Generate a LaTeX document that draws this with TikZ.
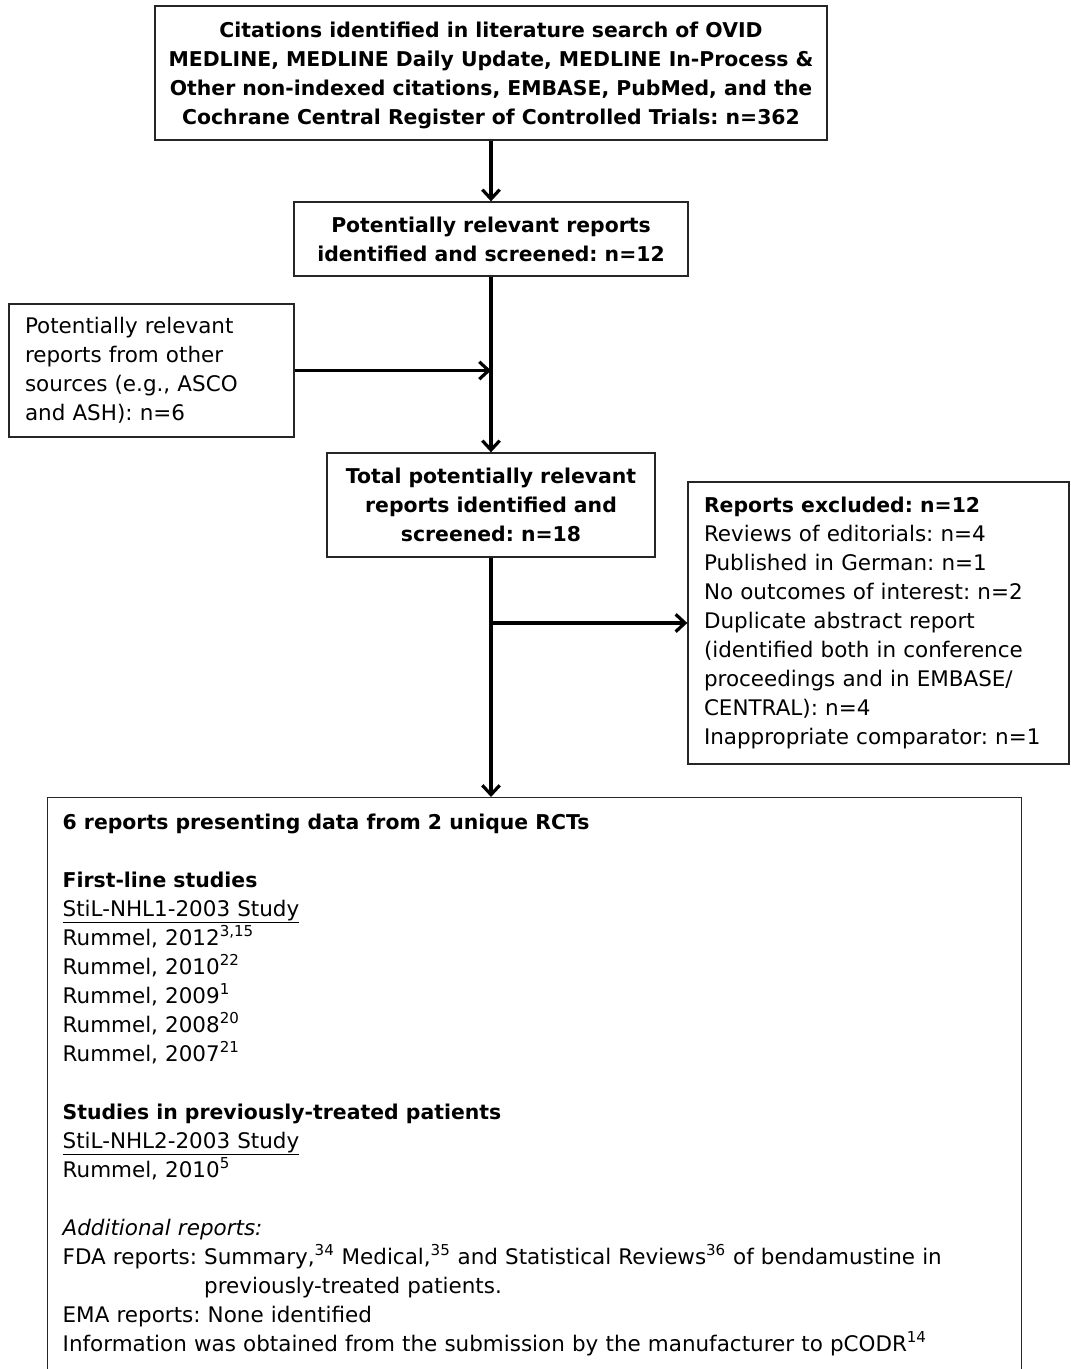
\documentclass[tikz,border=0pt]{standalone}
\usepackage{fontspec}
\setmainfont{DejaVu Sans}[BoldFeatures={Scale=0.95}]
\usepackage{tikz}
\usetikzlibrary{arrows.meta}
\frenchspacing

\begin{document}
\begin{tikzpicture}[x=0.75pt,y=0.75pt,yscale=-1,xscale=1,
	box/.style={draw=black!85,line width=1pt,inner sep=0pt,font=\fontsize{16.1pt}{21.75pt}\selectfont},
	boldbox/.style={box,align=center,font=\fontsize{16.1pt}{21.75pt}\selectfont\bfseries},
	listbox/.style={box,align=left,inner xsep=12pt},
	arr/.style={draw=black,line width=2.6pt,-{Straight Barb[length=7pt,width=13pt,line width=2.4pt]}}]
	\useasboundingbox (0,0) rectangle (1070,1369);
	
	%Shape: Rectangle [id:search]
	\node [boldbox,minimum width=504pt,minimum height=100.5pt,text depth=-2pt] (search) at (491,73)
		{Citations identified in literature search of OVID\\
		 MEDLINE, MEDLINE Daily Update, MEDLINE In-Process \&\\
		 Other non-indexed citations, EMBASE, PubMed, and the\\
		 Cochrane Central Register of Controlled Trials: n=362};
	%Shape: Rectangle [id:screened]
	\node [boldbox,minimum width=295.5pt,minimum height=55.5pt] (screened) at (491,239)
		{Potentially relevant reports\\ identified and screened: n=12};
	%Shape: Rectangle [id:other]
	\node [listbox,text width=189.75pt,minimum height=99.75pt] (other) at (151.5,370.5)
		{Potentially relevant\\ reports from other\\ sources (e.g., ASCO\\ and ASH): n=6};
	%Shape: Rectangle [id:total]
	\node [boldbox,minimum width=246pt,minimum height=78pt] (total) at (491,505)
		{Total potentially relevant\\ reports identified and\\ screened: n=18};
	%Shape: Rectangle [id:excluded]
	\node [listbox,text width=261.75pt,minimum height=211.5pt] (excluded) at (878.5,623)
		{\textbf{Reports excluded: n=12}\\
		 Reviews of editorials: n=4\\
		 Published in German: n=1\\
		 No outcomes of interest: n=2\\
		 Duplicate abstract report\\
		 (identified both in conference\\
		 proceedings and in EMBASE/\\
		 CENTRAL): n=4\\
		 Inappropriate comparator: n=1};
	%Shape: Rectangle [id:included]
	\node [listbox,anchor=north west,text width=708pt,inner xsep=11.25pt,inner ysep=12pt] (included) at (47,797)
		{\textbf{6 reports presenting data from 2 unique RCTs}\\[21.75pt]
		 \textbf{First-line studies}\\
		 \underline{StiL-NHL1-2003 Study}\\
		 Rummel, 2012\textsuperscript{3,15}\\
		 Rummel, 2010\textsuperscript{22}\\
		 Rummel, 2009\textsuperscript{1}\\
		 Rummel, 2008\textsuperscript{20}\\
		 Rummel, 2007\textsuperscript{21}\\[21.75pt]
		 \textbf{Studies in previously-treated patients}\\
		 \underline{StiL-NHL2-2003 Study}\\
		 Rummel, 2010\textsuperscript{5}\\[21.75pt]
		 \textit{Additional reports:}\\
		 FDA reports: Summary,\textsuperscript{34} Medical,\textsuperscript{35} and Statistical Reviews\textsuperscript{36} of bendamustine in\\
		 \hphantom{FDA reports: }previously-treated patients.\\
		 EMA reports: None identified\\
		 Information was obtained from the submission by the manufacturer to pCODR\textsuperscript{14}\\
		 \mbox{}\\ \mbox{}};
	
	%Straight Lines
	\coordinate (merge) at (other.east -| screened.south);
	\coordinate (split) at (total.south |- excluded.west);
	\draw [arr] (search) -- (screened);
	\draw [arr] (screened) -- (total);
	\draw [arr] (other) -- (merge);
	\draw [arr] (total.south) -- (total.south |- included.north);
	\draw [arr] (split) -- (excluded);
	
\end{tikzpicture}
\end{document}
